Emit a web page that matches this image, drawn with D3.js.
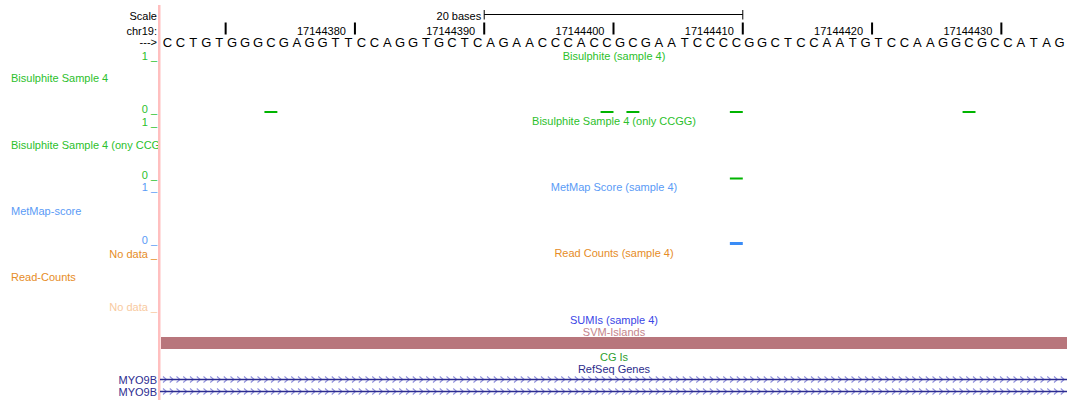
<!DOCTYPE html>
<html>
<head>
<meta charset="utf-8">
<script src="https://cdn.jsdelivr.net/npm/d3@7"></script>
<style>
body{margin:0;background:#fff;}
svg{display:block;font-family:"Liberation Sans",Arial,Helvetica,sans-serif;}
</style>
</head>
<body>
<div class="Graph"></div>
<script>
// view window (chr19)
const chrom = "chr19";
const viewStart = 17144365;
const viewEnd = 17144435;
const sequence = "CCTGTGGGCGAGGTTCCAGGTGCTCAGAACCCACCGCGAATCCCCGGCTCCAATGTCCAAGGCGCCATAG";

// ruler
const tickPos = [17144370, 17144380, 17144390, 17144400, 17144410, 17144420, 17144430];
const tickLabels = ["", "17144380", "17144390", "17144400", "17144410", "17144420", "17144430"];
const scaleBar = [17144390, 17144410];
const scaleBarLabel = "20 bases";

// wiggle tracks
const bisPos = [17144373, 17144399, 17144401, 17144409, 17144427];
const bisVal = [0, 0, 0, 0, 0];
const ccggPos = [17144409];
const ccggVal = [0];
const metmapPos = [17144409];
const metmapVal = [0];

// bed tracks
const svmStart = [17144300];
const svmEnd = [17144500];
const geneNames = ["MYO9B", "MYO9B"];
const geneStart = [17072000, 17072000];
const geneEnd = [17245000, 17245000];

const W = 1067, H = 400;
const svg = d3.select(".Graph").append("svg").attr("width", W).attr("height", H);

// left label area is clipped at the border
svg.append("defs").append("clipPath").attr("id", "leftclip")
	.append("rect").attr("x", 0).attr("y", 0).attr("width", 158).attr("height", H);
const leftG = svg.append("g").attr("clip-path", "url(#leftclip)");

const x = d3.scaleLinear().domain([viewStart, viewEnd]).range([161, 1066]);
const midX = (161 + 1067) / 2;

function txt(xp, yp, s, col, anchor, size, parent){
	return (parent || svg).append("text").attr("x", xp).attr("y", yp).text(s)
		.attr("fill", col).attr("font-size", size || 11)
		.attr("text-anchor", anchor || "start");
}

// pink left border
svg.append("rect").attr("x", 158).attr("y", 5).attr("width", 2.5).attr("height", H - 5).attr("fill", "#ffbfbf");

//=========== ruler
txt(157, 20, "Scale", "#000", "end");
txt(x(scaleBar[0]) - 3, 19.5, scaleBarLabel, "#000", "end");
svg.append("line").attr("x1", x(scaleBar[0])).attr("x2", x(scaleBar[1])).attr("y1", 14.5).attr("y2", 14.5).attr("stroke", "#000");
scaleBar.forEach(p => {
	svg.append("line").attr("x1", x(p)).attr("x2", x(p)).attr("y1", 10).attr("y2", 19.5).attr("stroke", "#000");
});
txt(157, 34.5, chrom + ":", "#000", "end");
tickPos.forEach((p, i) => {
	svg.append("rect").attr("x", x(p) - 1).attr("y", 22.5).attr("width", 2).attr("height", 12).attr("fill", "#000");
	if (tickLabels[i] != "") txt(x(p) - 9, 34.5, tickLabels[i], "#000", "end");
});
txt(157, 46, "--->", "#000", "end");
sequence.split("").forEach((b, i) => {
	txt((x(viewStart + i) + x(viewStart + i + 1)) / 2, 46.5, b, "#000", "middle", 13);
});

//=========== wiggle tracks
function wig(pos, val, y0, y1, col, markCol, markH, title, left, leftY){
	const y = d3.scaleLinear().domain([0, 1]).range([y0, y1]);
	txt(157, y1 - 1, "1 _", col, "end");
	txt(157, y0 + 0.5, "0 _", col, "end");
	txt(midX, y1 - 1.5, title, col, "middle");
	txt(11, leftY, left, col, "start", 11, leftG);
	pos.forEach((p, i) => {
		const top = Math.min(y(val[i]), y0 - markH / 2);
		svg.append("rect").attr("x", x(p)).attr("width", x(p + 1) - x(p))
			.attr("y", top).attr("height", Math.max(y0 - y(val[i]), markH)).attr("fill", markCol);
	});
}
wig(bisPos, bisVal, 112, 61, "#2cbf2c", "#00b400", 2, "Bisulphite (sample 4)", "Bisulphite Sample 4", 82);
wig(ccggPos, ccggVal, 178.5, 126.5, "#2cbf2c", "#00b400", 2, "Bisulphite Sample 4 (only CCGG)", "Bisulphite Sample 4 (ony CCGG)", 149);
wig(metmapPos, metmapVal, 243.5, 192, "#5a9bf6", "#3a8cf6", 3, "MetMap Score (sample 4)", "MetMap-score", 215);

//=========== read counts (no data)
txt(157, 257.5, "No data _", "#e68c26", "end");
txt(midX, 257, "Read Counts (sample 4)", "#e68c26", "middle");
txt(11, 281, "Read-Counts", "#e68c26", "start", 11, leftG);
txt(157, 311, "No data _", "#f8caa0", "end");

//=========== bed tracks
txt(midX, 323.5, "SUMIs (sample 4)", "#3a46e6", "middle");
txt(midX, 335.5, "SVM-Islands", "#c4848c", "middle");
svmStart.forEach((s, i) => {
	const a = Math.max(x(s), 161), b = Math.min(x(svmEnd[i]), W);
	svg.append("rect").attr("x", a).attr("y", 337).attr("width", b - a).attr("height", 12).attr("fill", "#b8767c");
});
txt(midX, 361, "CG Is", "#2ea02e", "middle");
txt(midX, 372.5, "RefSeq Genes", "#2c2c8c", "middle");

geneNames.forEach((g, i) => {
	const yy = 379.5 + i * 12;
	txt(157, yy + 4.5, g, "#2c2c90", "end");
	const a = Math.max(x(geneStart[i]), 160), b = Math.min(x(geneEnd[i]), W);
	// strand chevrons
	for (let cx = a + 5; cx < b; cx += 6.75) {
		svg.append("path").attr("d", `M${cx - 2},${yy - 3} L${cx + 1.5},${yy} L${cx - 2},${yy + 3}`)
			.attr("fill", "none").attr("stroke", "#8f8fdc").attr("stroke-width", 1.1);
	}
	svg.append("line").attr("x1", a).attr("x2", b).attr("y1", yy).attr("y2", yy)
		.attr("stroke", "#2c2c90").attr("stroke-width", 1.3);
});
</script>
</body>
</html>
